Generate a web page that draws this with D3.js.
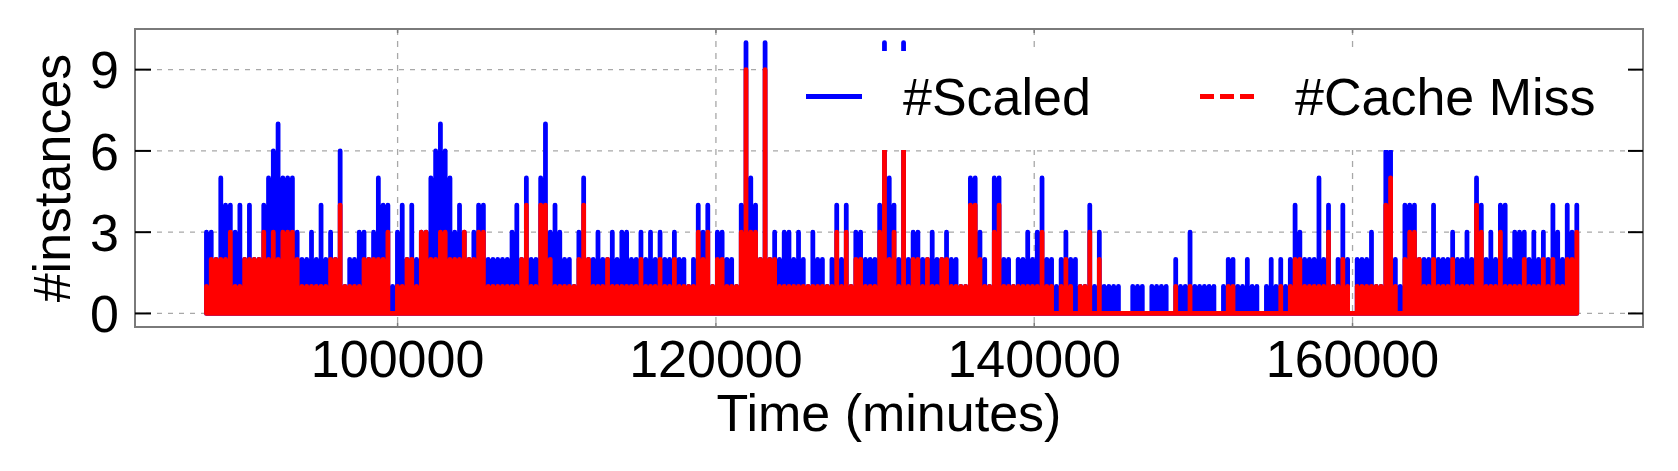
<!DOCTYPE html>
<html>
<head>
<meta charset="utf-8">
<script src="https://cdn.jsdelivr.net/npm/d3@7"></script>
<style>
    body { margin: 0; background: #fff; }
    svg { display: block; font-family: "Liberation Sans", Arial, Helvetica, sans-serif; }
</style>
</head>
<body>
<svg id="chart" width="1678" height="471"></svg>
<script>
// peak value in each 300-minute bin
var binStart = 87840;
var binSize = 300;

var scaledCounts = [
    3, 3, 2, 5, 4, 4, 3, 4, 2, 4, 2, 2,
    4, 5, 6, 7, 5, 5, 5, 3, 2, 2, 3, 2,
    4, 2, 3, 2, 6, 1, 2, 2, 3, 3, 2, 3,
    5, 4, 4, 1, 3, 4, 2, 4, 2, 3, 3, 5,
    6, 7, 6, 5, 3, 4, 3, 2, 3, 4, 4, 2,
    2, 2, 2, 2, 3, 4, 2, 5, 2, 2, 5, 7,
    3, 4, 3, 2, 2, 1, 3, 5, 2, 2, 3, 2,
    2, 3, 2, 3, 3, 2, 2, 3, 2, 3, 2, 3,
    2, 2, 3, 2, 2, 1, 2, 4, 3, 4, 1, 3,
    3, 2, 2, 1, 4, 10, 5, 4, 2, 10, 2, 3,
    2, 3, 3, 2, 3, 2, 1, 3, 2, 2, 1, 2,
    4, 2, 4, 1, 3, 3, 2, 2, 2, 4, 10, 5,
    4, 2, 10, 2, 3, 3, 2, 2, 3, 2, 2, 3,
    2, 2, 1, 1, 5, 5, 3, 2, 1, 5, 5, 2,
    2, 1, 2, 2, 3, 2, 3, 5, 2, 2, 1, 2,
    3, 2, 2, 1, 1, 4, 1, 3, 1, 1, 1, 1,
    0, 0, 1, 1, 1, 0, 1, 1, 1, 1, 0, 2,
    1, 1, 3, 1, 1, 1, 1, 1, 0, 1, 2, 2,
    1, 1, 2, 1, 1, 0, 1, 2, 1, 2, 1, 2,
    4, 3, 2, 2, 2, 5, 2, 4, 1, 2, 4, 2,
    0, 2, 2, 2, 3, 1, 1, 6, 6, 2, 1, 4,
    4, 4, 2, 2, 2, 4, 2, 2, 2, 3, 2, 2,
    3, 2, 5, 4, 2, 3, 2, 4, 4, 2, 3, 3,
    3, 2, 3, 2, 3, 2, 4, 3, 2, 4, 3, 4
];

var missCounts = [
    1, 2, 2, 2, 2, 3, 1, 1, 2, 2, 2, 2,
    3, 2, 3, 2, 3, 3, 3, 2, 1, 1, 1, 1,
    1, 1, 2, 2, 4, 1, 1, 1, 1, 2, 2, 2,
    2, 2, 3, 0, 1, 1, 2, 2, 1, 3, 3, 2,
    2, 3, 3, 2, 2, 2, 3, 2, 2, 3, 3, 1,
    1, 1, 1, 1, 1, 1, 2, 4, 1, 1, 4, 4,
    2, 1, 1, 1, 1, 1, 2, 4, 2, 1, 1, 1,
    2, 1, 1, 1, 1, 1, 1, 2, 1, 1, 1, 2,
    1, 1, 2, 1, 1, 1, 1, 3, 2, 3, 1, 2,
    2, 1, 1, 1, 3, 9, 3, 3, 2, 9, 2, 2,
    1, 1, 1, 1, 1, 1, 1, 1, 1, 1, 1, 1,
    3, 1, 3, 1, 2, 2, 1, 1, 1, 3, 8, 2,
    3, 1, 9, 1, 2, 2, 1, 2, 1, 1, 2, 2,
    1, 1, 1, 1, 4, 4, 2, 1, 1, 3, 4, 1,
    1, 1, 1, 1, 1, 1, 1, 3, 1, 1, 0, 1,
    2, 1, 0, 1, 1, 3, 0, 2, 0, 0, 0, 0,
    0, 0, 0, 0, 0, 0, 0, 0, 0, 0, 0, 1,
    0, 0, 1, 0, 0, 0, 0, 0, 0, 0, 1, 1,
    0, 0, 0, 0, 0, 0, 0, 0, 0, 1, 0, 1,
    2, 2, 1, 1, 1, 1, 1, 3, 1, 1, 2, 1,
    0, 1, 1, 1, 1, 1, 1, 4, 5, 1, 0, 2,
    3, 3, 2, 1, 1, 2, 1, 1, 1, 2, 1, 1,
    1, 1, 4, 3, 1, 1, 1, 3, 1, 1, 1, 1,
    2, 1, 1, 1, 2, 1, 2, 1, 1, 2, 2, 3
];

var xTicks = [100000, 120000, 140000, 160000];
var yTicks = [0, 3, 6, 9];
var seriesNames = ["#Scaled", "#Cache Miss"];
var seriesColors = ["#0000ff", "#ff0000"];

function drawChart() {
    var svg = d3.select("#chart"),
        margin = {
            top: 29,
            right: 35,
            bottom: 144,
            left: 135
        },
        width = +svg.attr("width") - margin.left - margin.right,
        height = +svg.attr("height") - margin.top - margin.bottom,
        g = svg.append("g").attr("transform", "translate(" + margin.left + "," + margin.top + ")");

    var x = d3.scaleLinear()
        .domain([83500, 178250])
        .range([0, width]);

    var y = d3.scaleLinear()
        .domain([-0.5, 10.5])
        .range([height, 0]);

    // dashed grid
    g.append("g")
        .selectAll("line")
        .data(yTicks)
        .join("line")
        .attr("x1", 0)
        .attr("x2", width)
        .attr("y1", d => y(d))
        .attr("y2", d => y(d))
        .attr("stroke", "#a8a8a8")
        .attr("stroke-width", 1.3)
        .attr("stroke-dasharray", "5,6");

    g.append("g")
        .selectAll("line")
        .data(xTicks)
        .join("line")
        .attr("x1", d => x(d))
        .attr("x2", d => x(d))
        .attr("y1", 0)
        .attr("y2", height)
        .attr("stroke", "#a8a8a8")
        .attr("stroke-width", 1.3)
        .attr("stroke-dasharray", "6,6");

    // each bin drawn as a spike from 0 up to its peak and back
    function spikes(values) {
        var pts = [];
        values.forEach(function (v, i) {
            var t = binStart + binSize * i + binSize / 2;
            pts.push([t, 0], [t, v], [t, 0]);
        });
        return pts;
    }

    var line = d3.line()
        .x(d => x(d[0]))
        .y(d => y(d[1]));

    var binWidth = x(binSize) - x(0);

    g.append("g")
        .selectAll("path")
        .data([scaledCounts, missCounts])
        .join("path")
        .attr("d", d => line(spikes(d)))
        .attr("fill", "none")
        .attr("stroke", (d, i) => seriesColors[i])
        .attr("stroke-width", binWidth)
        .attr("stroke-linecap", "round")
        .attr("stroke-linejoin", "round");

    // legend box, white and borderless
    var legend = svg.append("g");

    legend.append("rect")
        .attr("x", 773)
        .attr("y", 51)
        .attr("width", 853)
        .attr("height", 99)
        .attr("fill", "#fff");

    var items = legend.selectAll("g")
        .data(seriesNames)
        .join("g")
        .attr("transform", (d, i) => "translate(" + (i * 394) + ",0)");

    items.append("line")
        .attr("x1", 806)
        .attr("x2", 862)
        .attr("y1", 96.5)
        .attr("y2", 96.5)
        .attr("stroke", (d, i) => seriesColors[i])
        .attr("stroke-width", 5)
        .attr("stroke-dasharray", (d, i) => i == 1 ? "14,6" : null);

    items.append("text")
        .attr("x", (d, i) => i == 1 ? 901 : 903)
        .attr("y", 115)
        .attr("font-size", 52)
        .attr("fill", "#000")
        .text(d => d);

    // frame and ticks
    g.append("rect")
        .attr("x", 0)
        .attr("y", 0)
        .attr("width", width)
        .attr("height", height)
        .attr("fill", "none")
        .attr("stroke", "#7a7a7a")
        .attr("stroke-width", 2);

    var yt = g.append("g")
        .selectAll("g")
        .data(yTicks)
        .join("g");

    yt.append("line")
        .attr("x1", 0)
        .attr("x2", 16)
        .attr("y1", d => y(d))
        .attr("y2", d => y(d))
        .attr("stroke", "#000")
        .attr("stroke-width", 2);

    yt.append("line")
        .attr("x1", width - 15)
        .attr("x2", width)
        .attr("y1", d => y(d))
        .attr("y2", d => y(d))
        .attr("stroke", "#000")
        .attr("stroke-width", 2);

    yt.append("text")
        .attr("x", -16)
        .attr("y", d => y(d))
        .attr("dy", "0.36em")
        .attr("text-anchor", "end")
        .attr("font-size", 52)
        .text(d => d);

    var xt = g.append("g")
        .selectAll("g")
        .data(xTicks)
        .join("g");

    xt.append("line")
        .attr("x1", d => x(d))
        .attr("x2", d => x(d))
        .attr("y1", height - 4)
        .attr("y2", height)
        .attr("stroke", "#7a7a7a")
        .attr("stroke-width", 1.5);

    xt.append("line")
        .attr("x1", d => x(d))
        .attr("x2", d => x(d))
        .attr("y1", 0)
        .attr("y2", 4)
        .attr("stroke", "#7a7a7a")
        .attr("stroke-width", 1.5);

    xt.append("text")
        .attr("x", d => x(d))
        .attr("y", height + 50)
        .attr("text-anchor", "middle")
        .attr("font-size", 52)
        .text(d => d);

    // axis titles
    g.append("text")
        .attr("x", width / 2)
        .attr("y", height + 104)
        .attr("text-anchor", "middle")
        .attr("font-size", 52)
        .text("Time (minutes)");

    svg.append("text")
        .attr("transform", "translate(70," + (margin.top + height / 2) + ") rotate(-90)")
        .attr("text-anchor", "middle")
        .attr("font-size", 52)
        .text("#instances");
}

drawChart();
</script>
</body>
</html>
